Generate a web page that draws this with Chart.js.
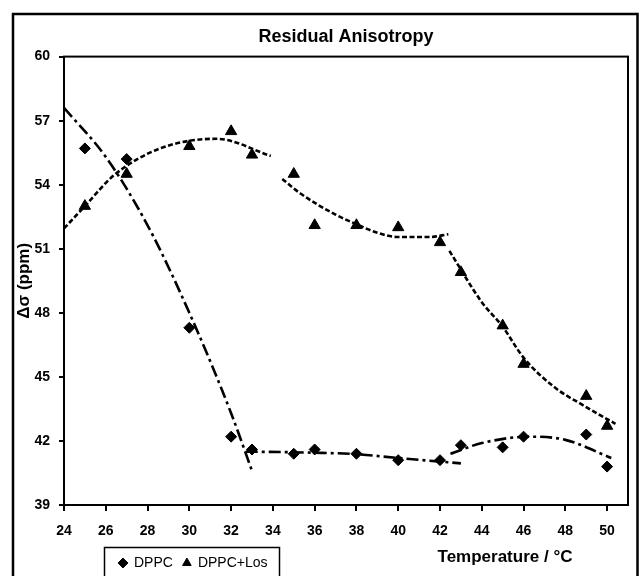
<!DOCTYPE html>
<html>
<head>
<meta charset="utf-8">
<script src="https://cdn.jsdelivr.net/npm/chart.js"></script>
<style>
  body { margin: 0; background: #fff; }
</style>
</head>
<body>
<canvas id="myChart" width="640" height="576"></canvas>
<script>
// measured points
const temps = [25, 27, 30, 32, 33, 35, 36, 38, 40, 42, 43, 45, 46, 49, 50]
const dppc = [55.7, 55.2, 47.3, 42.2, 41.6, 41.4, 41.6, 41.4, 41.1, 41.1, 41.8, 41.7, 42.2, 42.3, 40.8]
const dppcLos = [53.0, 54.5, 55.8, 56.5, 55.4, 54.5, 52.1, 52.1, 52.0, 51.3, 49.9, 47.4, 45.6, 44.1, 42.7]

// trend lines
const dppcFit1X = [24, 26, 28, 30, 32, 33]
const dppcFit1Y = [57.6, 55.3, 52.1, 48.0, 43.3, 40.6]
const dppcFit2X = [32.7, 36, 38, 40, 43]
const dppcFit2Y = [41.5, 41.45, 41.38, 41.2, 40.95]
const dppcFit3X = [42.5, 44, 46.3, 48, 50.2]
const dppcFit3Y = [41.4, 41.9, 42.2, 42.05, 41.2]

const losFit1X = [24, 25, 26.4, 28.6, 31.3, 33.9]
const losFit1Y = [51.95, 53.0, 54.45, 55.7, 56.15, 55.35]
const losFit2X = [34.45, 35.3, 37, 38, 39, 40, 41.5, 42.4]
const losFit2Y = [54.27, 53.6, 52.6, 52.15, 51.75, 51.55, 51.55, 51.68]
const losFit3X = [42.45, 44, 45, 46, 47.5, 48.8, 50.4]
const losFit3Y = [50.9, 48.5, 47.35, 45.9, 44.5, 43.7, 42.8]

const xTicks = { min: 24, max: 51, step: 2 }
const yTicks = { min: 39, max: 60, step: 3 }

const sans = "'Liberation Sans', Arial, sans-serif"

function toPoints(xs, ys) {
  return xs.map((x, i) => ({ x: x, y: ys[i] }))
}

function fitLine(xs, ys, dash) {
  return {
    label: "fit",
    data: toPoints(xs, ys),
    showLine: true,
    pointRadius: 0,
    borderColor: "#000",
    borderWidth: 2.6,
    borderDash: dash,
    borderCapStyle: "butt",
    cubicInterpolationMode: "monotone",
    fill: false,
  }
}

const dppcDash = [12, 4, 3, 4]
const losDash = [5, 2.5]

// frame, plot box, x title and legend box
const decorations = {
  id: "decorations",
  beforeDraw(chart) {
    const ctx = chart.ctx
    ctx.save()
    ctx.fillStyle = "#fff"
    ctx.fillRect(0, 0, chart.width, chart.height)
    ctx.strokeStyle = "#000"
    ctx.lineWidth = 2.5
    ctx.strokeRect(13, 14, 624.5, 600)
    ctx.restore()
  },
  afterLayout(chart) {
    chart.legend.left = 109
    chart.legend.top = 546
  },
  afterDraw(chart) {
    const ctx = chart.ctx
    const a = chart.chartArea
    ctx.save()
    ctx.strokeStyle = "#000"
    ctx.lineWidth = 2
    ctx.strokeRect(a.left, a.top, a.right - a.left, a.bottom - a.top)
    ctx.lineWidth = 1.5
    ctx.strokeRect(104.5, 547.5, 175, 40)
    ctx.fillStyle = "#000"
    ctx.font = "bold 17px " + sans
    ctx.textAlign = "center"
    ctx.textBaseline = "middle"
    ctx.fillText("Temperature / °C", 505, 557)
    ctx.restore()
  },
}

new Chart(document.getElementById("myChart"), {
  type: "scatter",
  data: {
    datasets: [
      {
        label: "DPPC",
        data: toPoints(temps, dppc),
        pointStyle: "rectRot",
        pointRadius: 5.5,
        backgroundColor: "#000",
        borderColor: "#000",
      },
      {
        label: "DPPC+Los",
        data: toPoints(temps, dppcLos),
        pointStyle: "triangle",
        pointRadius: 6.5,
        backgroundColor: "#000",
        borderColor: "#000",
      },
      fitLine(dppcFit1X, dppcFit1Y, dppcDash),
      fitLine(dppcFit2X, dppcFit2Y, dppcDash),
      fitLine(dppcFit3X, dppcFit3Y, dppcDash),
      fitLine(losFit1X, losFit1Y, losDash),
      fitLine(losFit2X, losFit2Y, losDash),
      fitLine(losFit3X, losFit3Y, losDash),
    ],
  },
  options: {
    responsive: false,
    animation: false,
    devicePixelRatio: 1,
    layout: { padding: { left: 12, right: 12, top: 13, bottom: 0 } },
    plugins: {
      title: {
        display: true,
        text: "Residual Anisotropy",
        fullSize: false,
        color: "#000",
        font: { family: sans, size: 18, weight: "bold" },
        padding: { top: 13, bottom: 9 },
      },
      legend: {
        position: "bottom",
        align: "start",
        labels: {
          filter: (item) => item.datasetIndex < 2,
          usePointStyle: true,
          boxWidth: 8,
          boxHeight: 7,
          padding: 10,
          color: "#000",
          font: { family: sans, size: 14 },
        },
      },
      tooltip: { enabled: false },
    },
    scales: {
      x: {
        type: "linear",
        min: xTicks.min,
        max: xTicks.max,
        afterFit: (s) => {
          const lh = s.chart.legend ? s.chart.legend.height : 0
          s.height = 576 - 505 - lh
        },
        grid: { display: true, drawOnChartArea: false, drawTicks: true, tickLength: 6, color: "#000", lineWidth: 2 },
        border: { display: true, color: "#000", width: 2 },
        ticks: {
          stepSize: xTicks.step,
          includeBounds: false,
          padding: 12,
          color: "#000",
          font: { family: sans, size: 14, weight: "bold" },
        },
      },
      y: {
        min: yTicks.min,
        max: yTicks.max,
        afterFit: (s) => { s.width = 52 },
        grid: { display: true, drawOnChartArea: false, drawTicks: true, tickLength: 5, color: "#000", lineWidth: 2 },
        border: { display: true, color: "#000", width: 2 },
        ticks: {
          stepSize: yTicks.step,
          padding: 9,
          color: "#000",
          font: { family: sans, size: 14, weight: "bold" },
        },
        title: {
          display: true,
          text: "Δσ (ppm)",
          color: "#000",
          font: { family: sans, size: 17, weight: "bold" },
          padding: { top: 2, bottom: 0 },
        },
      },
    },
  },
  plugins: [decorations],
})
</script>
</body>
</html>
